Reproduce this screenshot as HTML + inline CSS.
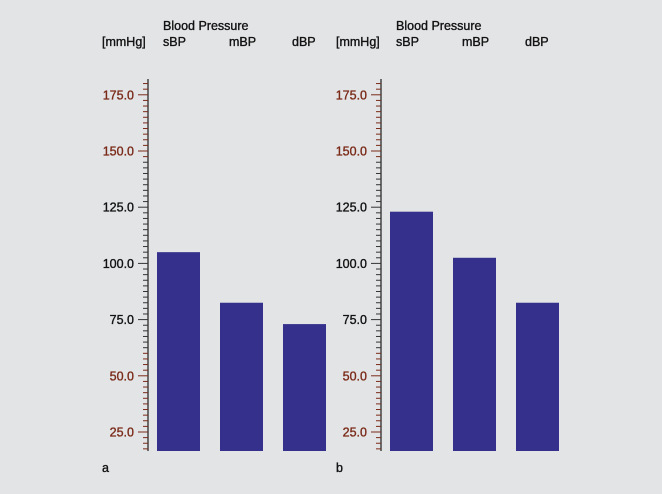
<!DOCTYPE html>
<html><head><meta charset="utf-8"><style>
body{margin:0;background:#e3e4e6;}
svg{display:block;font-family:"Liberation Sans",sans-serif;}
svg text{stroke-width:0.35px;paint-order:stroke;}
</style></head><body>
<svg id="c" width="662" height="494"></svg>
<script>
const categories=["sBP","mBP","dBP"];
const valuesA=[105,82.5,73];
const valuesB=[123,102.5,82.5];
const tickLabels=[25,50,75,100,125,150,175];
const NS="http://www.w3.org/2000/svg";
const svg=document.getElementById('c');
function y(v){return 432-(v-25)*2.248;}
function mk(t,a,p){const e=document.createElementNS(NS,t);for(const k in a)e.setAttribute(k,a[k]);(p||svg).appendChild(e);return e;}
const BROWN="#7a2a18",DARK="#333";
function panel(ax,lx,bx,vals,letter,id){
  const g=mk('g',{});
  
  
  let t=mk('text',{x:bx+6,y:30,'font-size':12.5,fill:'#111',stroke:'#111'},g);t.textContent="Blood Pressure";
  
  t=mk('text',{x:lx,y:46,'font-size':12.5,fill:'#111',stroke:'#111'},g);t.textContent="[mmHg]";
  
  t=mk('text',{x:lx,y:472,'font-size':12.5,fill:'#111',stroke:'#111'},g);t.textContent=letter;
  
  const l=mk('line',{x1:ax,x2:ax,y1:79,y2:451,stroke:'#444','stroke-width':1.5},g);
  
  for(let v=17.5;v<=180;v+=2.5){
    const major=(v%25===0);
    const col=(v>=147.5||v<=60)?BROWN:DARK;
    const tk=mk('line',{x1:ax-(major?10:5),x2:ax,y1:y(v),y2:y(v),stroke:col,'stroke-width':1},g);
    
  }
  tickLabels.forEach(v=>{
    const col=(v>=150||v<=50)?BROWN:'#111';
    const tt=mk('text',{x:ax-14,y:y(v)+4.5,'font-size':12.5,'text-anchor':'end',fill:col,stroke:col},g);
    tt.textContent=v.toFixed(1);
    
  });
  categories.forEach((c,i)=>{
    const x=bx+i*63;
    const ct=mk('text',{x:x+6+(i?3:0),y:46,'font-size':12.5,fill:'#111',stroke:'#111'},g);ct.textContent=c;
    
    const r=mk('rect',{x:x,y:y(vals[i]),width:43,height:451-y(vals[i]),fill:'#34308c'},g);
    
  });
}
panel(148,102,157,valuesA,'a','a');
panel(381,336,390,valuesB,'b','b');
</script>
</body></html>
